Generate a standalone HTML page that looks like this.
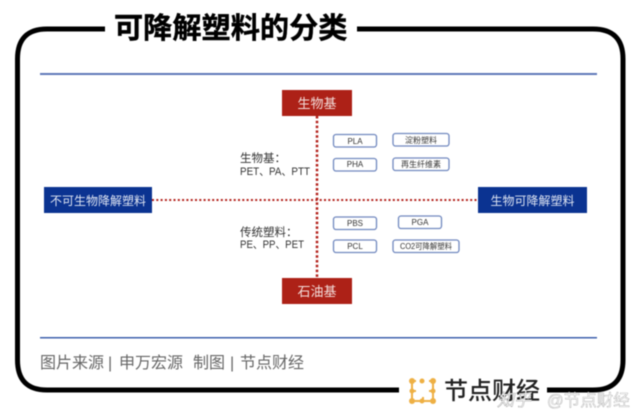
<!DOCTYPE html>
<html lang="zh"><head><meta charset="utf-8">
<style>
html,body{margin:0;padding:0;background:#fff}
svg{display:block;filter:blur(.4px)}
text{font-family:"Liberation Sans","Noto Sans CJK SC",sans-serif}
</style></head><body>
<svg width="640" height="414" viewBox="0 0 640 414" xmlns="http://www.w3.org/2000/svg">
<rect width="640" height="414" fill="#fff"/>
<path d="M105 29H47Q17.500 29 17.500 59V360Q17.500 390 47 390H399M547 390H593Q623 390 623 360V59Q623 29 593 29H357" fill="none" stroke="#000" stroke-width="5"/>
<text x="114" y="38" font-size="29.200" font-weight="700" fill="#000" stroke="#000" stroke-width=".4">可降解塑料的分类</text>
<rect x="40" y="73" width="557" height="2" fill="#5f78b8"/>
<rect x="40" y="337" width="557" height="1.500" fill="#3f62ad"/>
<path d="M152 200H478" stroke="#b3211b" stroke-width="2" stroke-dasharray="2 2.300"/>
<path d="M317 116V278" stroke="#b3211b" stroke-width="2.500" stroke-dasharray="2.500 2.300"/>
<rect x="282" y="90" width="70" height="26" fill="#ad2117"/>
<text x="317" y="108" font-size="13" fill="#f3dedb" text-anchor="middle">生物基</text>
<rect x="282" y="278" width="70" height="26" fill="#ad2117"/>
<text x="317" y="296" font-size="13" fill="#f3dedb" text-anchor="middle">石油基</text>
<rect x="44" y="187" width="108" height="26" fill="#0b3391"/>
<text x="98" y="205" font-size="12" fill="#dfe5f2" text-anchor="middle">不可生物降解塑料</text>
<rect x="478" y="187" width="109" height="26" fill="#0b3391"/>
<text x="532.500" y="205" font-size="12" fill="#dfe5f2" text-anchor="middle">生物可降解塑料</text>
<g fill="#333">
<text x="240" y="162" font-size="11.500">生物基：</text>
<text x="240" y="175" font-size="11" textLength="70" lengthAdjust="spacingAndGlyphs">PET、PA、PTT</text>
<text x="240" y="236" font-size="11.500">传统塑料：</text>
<text x="240" y="248" font-size="11" textLength="64" lengthAdjust="spacingAndGlyphs">PE、PP、PET</text>
</g>
<g fill="#fff" stroke="#7088bf" stroke-width="1.300">
<rect x="333.500" y="134.500" width="43" height="12.500" rx="2.500"/>
<rect x="333.500" y="158.500" width="43" height="12.500" rx="2.500"/>
<rect x="393" y="133.500" width="56" height="12.500" rx="2.500"/>
<rect x="393" y="158" width="56" height="12.500" rx="2.500"/>
<rect x="333.500" y="217" width="43" height="12.500" rx="2.500"/>
<rect x="333.500" y="240" width="43" height="12.500" rx="2.500"/>
<rect x="398.500" y="216" width="43" height="12.500" rx="2.500"/>
<rect x="393" y="240" width="66" height="12.500" rx="2.500"/>
</g>
<g fill="#333" font-size="8" text-anchor="middle">
<text x="355" y="144">PLA</text>
<text x="355" y="167">PHA</text>
<text x="421" y="143">淀粉塑料</text>
<text x="421" y="167">再生纤维素</text>
<text x="355" y="226">PBS</text>
<text x="355" y="249">PCL</text>
<text x="420" y="225">PGA</text>
<text x="426" y="249" textLength="52" lengthAdjust="spacingAndGlyphs">CO2可降解塑料</text>
</g>
<g font-size="16" fill="#666">
<text x="40" y="368">图片来源</text>
<text x="108" y="368">|</text>
<text x="119" y="368">申万宏源</text>
<text x="193" y="368">制图</text>
<text x="230" y="368">|</text>
<text x="240" y="368">节点财经</text>
</g>
<path d="M412 381V401H433V381M412 381H416M429 381H433M412 391H416M429 391H433M423 401V397" stroke="#eeb044" stroke-width="2" fill="none"/>
<g fill="#eeb044">
<circle cx="412" cy="381" r="3"/><circle cx="422" cy="381" r="2.500"/><circle cx="433" cy="381" r="3"/>
<circle cx="412" cy="391" r="2.500"/><circle cx="433" cy="391" r="2.500"/>
<circle cx="412" cy="401" r="3"/><circle cx="422" cy="401" r="2.500"/><circle cx="433" cy="401" r="3"/>
</g>
<text x="444" y="399" font-size="24" font-weight="500" fill="#222">节点财经</text>
<text x="497" y="406" font-size="17" font-style="italic" fill="#fff" stroke="#888" stroke-width=".35">知乎</text>
<text x="547" y="406" font-size="16.500" fill="#fff" stroke="#999" stroke-width=".35">@节点财经</text>
</svg>
</body></html>
